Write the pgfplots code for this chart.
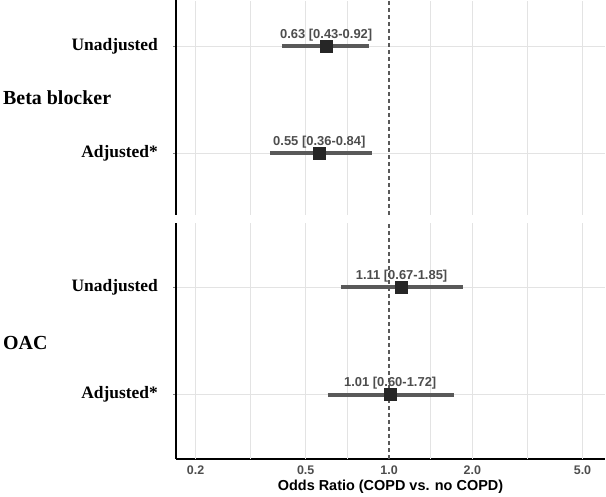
\documentclass[border=0pt]{standalone}
\usepackage{pgfplots}
\pgfplotsset{compat=1.18}
\usepackage{fontspec}
\setmainfont{Liberation Serif}
\newfontfamily\arialb{Liberation Sans}[BoldFont=* Bold]
\definecolor{ptcol}{HTML}{262626}
\definecolor{cicol}{HTML}{595959}
\definecolor{txtcol}{HTML}{4D4D4D}
\definecolor{gridcol}{HTML}{E3E3E3}
\pgfplotsset{
  /pgfplots/myfp/.style={
    scale only axis,
    width=429bp,
    xmin=0.170, xmax=6.03,
    axis y line*=left,
    axis line style={black, line width=1.1bp},
    xtick={0.2,0.5,1,2,5},
    xticklabels={0.2,0.5,1.0,2.0,5.0},
    ytick={1,2},
    yticklabels={Adjusted*,Unadjusted},
    ymajorgrids,
    major grid style={gridcol, line width=0.8bp},
    major x tick style={draw=none},
    major y tick style={gray, line width=0.6bp},
    tick align=outside,
    major tick length=3bp,
    yticklabel style={font=\fontsize{17.5}{20}\selectfont\bfseries, anchor=east, inner sep=0pt, xshift=-15bp},
    xticklabel style={font=\fontsize{12.5}{14}\selectfont\arialb\bfseries, text=txtcol, inner sep=0pt},
    /pgf/number format/assume math mode=true,
    clip=false,
  },
  /pgfplots/vgrid/.style={gridcol, line width=0.8bp, forget plot},
}
\begin{document}
\begin{tikzpicture}[x=1bp,y=1bp]
\useasboundingbox (0,0) rectangle (606,497);
% bottom panel: OAC (also carries the vertical grid of the upper panel, y 2.675..4.67)
\begin{axis}[xmode=log, myfp, at={(176bp,38bp)}, anchor=south west, height=236bp,
  axis x line*=bottom,
  xticklabel style={yshift=-4bp},
  ymin=0.4, ymax=2.6]
\addplot[vgrid] coordinates {(0.2,0.4) (0.2,2.6)};
\addplot[vgrid] coordinates {(0.3162,0.4) (0.3162,2.6)};
\addplot[vgrid] coordinates {(0.5,0.4) (0.5,2.6)};
\addplot[vgrid] coordinates {(0.7071,0.4) (0.7071,2.6)};
\addplot[vgrid] coordinates {(1.4142,0.4) (1.4142,2.6)};
\addplot[vgrid] coordinates {(2,0.4) (2,2.6)};
\addplot[vgrid] coordinates {(3.1623,0.4) (3.1623,2.6)};
\addplot[vgrid] coordinates {(5,0.4) (5,2.6)};
\addplot[vgrid] coordinates {(0.2,2.675) (0.2,4.67)};
\addplot[vgrid] coordinates {(0.3162,2.675) (0.3162,4.67)};
\addplot[vgrid] coordinates {(0.5,2.675) (0.5,4.67)};
\addplot[vgrid] coordinates {(0.7071,2.675) (0.7071,4.67)};
\addplot[vgrid] coordinates {(1.4142,2.675) (1.4142,4.67)};
\addplot[vgrid] coordinates {(2,2.675) (2,4.67)};
\addplot[vgrid] coordinates {(3.1623,2.675) (3.1623,4.67)};
\addplot[vgrid] coordinates {(5,2.675) (5,4.67)};
\addplot[cicol, dash pattern=on 4bp off 3bp, line width=1.1bp, forget plot] coordinates {(1,0.4) (1,2.6)};
\addplot[cicol, line width=4bp] coordinates {(0.67,2) (1.85,2)};
\addplot[cicol, line width=4bp] coordinates {(0.60,1) (1.72,1)};
\addplot[only marks, mark=square*, mark size=6bp, mark options={fill=ptcol, draw=ptcol},
  nodes near coords, point meta=explicit symbolic,
  every node near coord/.style={font=\fontsize{13}{15}\selectfont\arialb\bfseries, text=txtcol, anchor=south, yshift=5bp, inner sep=0pt}] coordinates {
 (1.11,2) [1.11 {[}0.67-1.85{]}]
 (1.01,1) [1.01 {[}0.60-1.72{]}]
};
\end{axis}
% top panel: Beta blocker
\begin{axis}[xmode=log, myfp, at={(176bp,282bp)}, anchor=south west, height=215bp,
  axis x line=none,
  ymin=0.42, ymax=2.43]
\addplot[cicol, dash pattern=on 4bp off 3bp, line width=1.1bp, forget plot] coordinates {(1,0.42) (1,2.43)};
\addplot[cicol, line width=4bp] coordinates {(0.41,2) (0.85,2)};
\addplot[cicol, line width=4bp] coordinates {(0.372,1) (0.87,1)};
\addplot[only marks, mark=square*, mark size=6bp, mark options={fill=ptcol, draw=ptcol},
  nodes near coords, point meta=explicit symbolic,
  every node near coord/.style={font=\fontsize{13}{15}\selectfont\arialb\bfseries, text=txtcol, anchor=south, yshift=5bp, inner sep=0pt}] coordinates {
 (0.593,2) [0.63 {[}0.43-0.92{]}]
 (0.56,1) [0.55 {[}0.36-0.84{]}]
};
\end{axis}
\node[anchor=west, inner sep=0pt, font=\fontsize{20}{24}\selectfont\bfseries] at (3,399) {Beta blocker};
\node[anchor=west, inner sep=0pt, font=\fontsize{20}{24}\selectfont\bfseries] at (3,154) {OAC};
\node[inner sep=0pt, font=\fontsize{14.5}{17}\selectfont\arialb\bfseries] at (390.5,10) {Odds Ratio (COPD vs. no COPD)};
\end{tikzpicture}
\end{document}
